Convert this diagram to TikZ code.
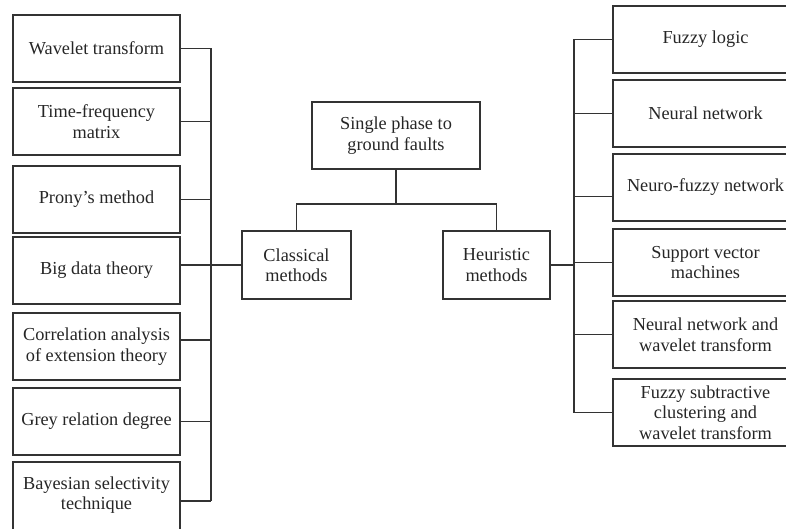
\documentclass[tikz,border=0pt]{standalone}
\usepackage{fontspec}
\setmainfont{Liberation Serif}
\usetikzlibrary{positioning}
\definecolor{linegrey}{HTML}{333333}
\tikzset{box/.style={draw=linegrey,line width=1.6pt,align=center,inner sep=2pt,outer sep=0pt,
        font=\fontsize{18.3}{20.5}\selectfont,text=black!85}}
\tikzset{leaf/.style={box,minimum width=167pt,minimum height=67pt},
        rleaf/.style={box,minimum width=185pt,minimum height=67pt},
        link/.style={draw=linegrey,line width=1.6pt}}

\begin{document}
\begin{tikzpicture}[x=1pt,y=-1pt]
    \useasboundingbox (0,0) rectangle (786,529);
    % classical side
    \node[leaf] (wt) at (96.5,48.5)   {Wavelet transform};
    \node[leaf] (tf) [below=6pt of wt]  {Time-frequency\\matrix};
    \node[leaf] (pr) [below=11pt of tf] {Prony's method};
    \node[leaf] (bd) [below=4pt of pr]  {Big data theory};
    \node[leaf] (cd) [below=9pt of bd]  {Correlation analysis\\of extension theory};
    \node[leaf] (gr) [below=8pt of cd]  {Grey relation degree};
    \node[leaf,minimum height=72pt,text depth=10pt] (bs) [below=7pt of gr] {Bayesian selectivity\\technique};
    % root and the two families
    \node[box,minimum width=168pt,minimum height=67pt] (sp) at (396,135.5) {Single phase to\\ground faults};
    \node[box,minimum width=109pt,minimum height=68pt] (cm) at (296.5,265) {Classical\\methods};
    \node[box,minimum width=107pt,minimum height=68pt] (hm) at (496.5,265) {Heuristic\\methods};
    % heuristic side
    \node[rleaf] (fl) at (705.5,39.5)   {Fuzzy logic};
    \node[rleaf] (nn) [below=7pt of fl]  {Neural network};
    \node[rleaf] (nf) [below=7pt of nn]  {Neuro-fuzzy network};
    \node[rleaf] (sv) [below=8pt of nf]  {Support vector\\machines};
    \node[rleaf] (nw) [below=5pt of sv]  {Neural network and\\wavelet transform};
    \node[rleaf] (fs) [below=11pt of nw] {Fuzzy subtractive\\clustering and\\wavelet transform};

    \coordinate (fork) at (396,204);
    \coordinate (lbus) at (211,0);
    \coordinate (rbus) at (574,0);

    \draw[link] (sp.south) -- (fork);
    \draw[link] (cm.north) |- (fork) -| (hm.north);
    % left bus
    \draw[link] (wt.east -| lbus) -- ([yshift=-3pt]bs.east -| lbus);
    \foreach \n in {wt,tf,pr,gr}
        \draw[link] (\n.east) -- (\n.east -| lbus);
    \draw[link] ([yshift=-3pt]bs.east) -- ([yshift=-3pt]bs.east -| lbus);
    \draw[link] ([yshift=5.5pt]bd.east) -- ([yshift=5.5pt]bd.east -| lbus);
    \draw[link] ([yshift=6.5pt]cd.east) -- ([yshift=6.5pt]cd.east -| lbus);
    \draw[link] (cm.west) -- (cm.west -| lbus);
    % right bus
    \draw[link] (fl.west -| rbus) -- (fs.west -| rbus);
    \foreach \n in {fl,nn,sv,nw,fs}
        \draw[link] (\n.west) -- (\n.west -| rbus);
    \draw[link] ([yshift=-9pt]nf.west) -- ([yshift=-9pt]nf.west -| rbus);
    \draw[link] (hm.east) -- (hm.east -| rbus);
\end{tikzpicture}
\end{document}
